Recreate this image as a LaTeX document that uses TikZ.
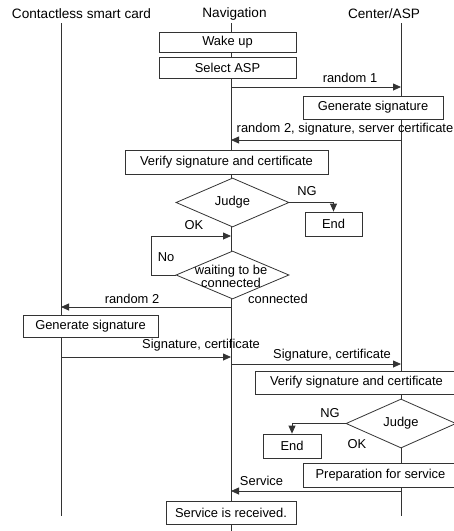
\documentclass[tikz,border=0pt]{standalone}
\usepackage{fontspec}
\setmainfont{Liberation Sans}
\usetikzlibrary{arrows.meta,shapes.geometric}
\begin{document}
\begin{tikzpicture}[x=1pt,y=-1pt,
  every node/.style={font=\fontsize{12.9}{13}\selectfont, inner sep=0pt},
  ln/.style={draw=black!80, line width=0.8pt},
  msg/.style={ln, -{Triangle[length=8pt,width=7pt]}},
  box/.style={ln, fill=white, rectangle},
  dia/.style={ln, fill=white, diamond, aspect=2.3},
  lbl/.style={anchor=center},
  ttl/.style={anchor=center, font=\fontsize{13.6}{14}\selectfont}]
\useasboundingbox (0,0) rectangle (454,531);
\clip (0,0) rectangle (454,531);
% titles
\node[ttl] (tcard) at (81.5,14) {Contactless smart card};
\node[ttl] (tnav) at (234.5,14) {Navigation};
\node[ttl] (tasp) at (384,14) {Center/ASP};
% lifelines
\coordinate (c0) at (61,23); \coordinate (c1) at (61,516);
\coordinate (n0) at (231,23); \coordinate (n1) at (231,531);
\coordinate (a0) at (401,23); \coordinate (a1) at (401,516);
\draw[ln] (c0) -- (c1);
\draw[ln] (n0) -- (n1);
\draw[ln] (a0) -- (a1);
% boxes
\node[box, minimum width=137pt, minimum height=20pt] (wake) at (227.5,42) {Wake up};
\node[box, minimum width=137pt, minimum height=21pt] (sel) at (227.5,67.5) {Select ASP};
% random 1
\coordinate (r1a) at (231,87); \coordinate (r1b) at (401,87);
\draw[msg] (r1a) -- (r1b);
\node[lbl] (lr1) at (350,78) {random 1};
\node[box, minimum width=140pt, minimum height=23pt] (gen1) at (373,107.5) {Generate signature};
% random 2 signature
\coordinate (r2a) at (401,140); \coordinate (r2b) at (231,140);
\draw[msg] (r2a) -- (r2b);
\node[lbl] (lr2) at (345,129.5) {random 2, signature, server certificate};
\node[box, minimum width=203pt, minimum height=24pt] (ver1) at (226.5,162) {Verify signature and certificate};
% judge 1
\node[dia, minimum width=113pt, minimum height=49pt] (j1) at (232.5,202.5) {};
\node[lbl] (j1t) at (j1) {Judge};
\node[box, minimum width=57pt, minimum height=24pt] (end1) at (333.5,224) {End};
\draw[msg] (j1.east) -| (end1.north);
\node[lbl] (ng1) at (307,191.5) {NG};
\node[lbl] (ok1) at (194,225.5) {OK};
% waiting
\node[dia, minimum width=113pt, minimum height=48pt] (w) at (232.5,275) {};
\node[lbl, align=center, font=\fontsize{12.9}{11}\selectfont] (wt) at (231,276.5) {waiting to be\\connected};
\coordinate (lp1) at (151,275); \coordinate (lp2) at (151,236); \coordinate (okin) at (231,236);
\draw[msg] (w.west) -- (lp1) -- (lp2) -- (okin);
\node[lbl] (no) at (166,257) {No};
\node[lbl] (conn) at (278,299) {connected};
% random 2 to card
\coordinate (r3a) at (231,307); \coordinate (r3b) at (61,307);
\draw[msg] (r3a) -- (r3b);
\node[lbl] (lr3) at (132,298.5) {random 2};
\node[box, minimum width=135pt, minimum height=22pt] (gen2) at (90.5,326) {Generate signature};
% signature certificate
\coordinate (s1a) at (61,357); \coordinate (s1b) at (231,357);
\draw[msg] (s1a) -- (s1b);
\node[lbl] (ls1) at (201,345) {Signature, certificate};
\coordinate (s2a) at (231,364); \coordinate (s2b) at (401,364);
\draw[msg] (s2a) -- (s2b);
\node[lbl] (ls2) at (332,355) {Signature, certificate};
\node[box, minimum width=203pt, minimum height=23pt] (ver2) at (356.5,382.5) {Verify signature and certificate};
% judge 2
\node[dia, minimum width=110pt, minimum height=49pt] (j2) at (401,423.5) {};
\node[lbl] (j2t) at (j2) {Judge};
\node[box, minimum width=58pt, minimum height=24pt] (end2) at (292,446) {End};
\draw[msg] (j2.west) -| (end2.north);
\node[lbl] (ng2) at (330,413) {NG};
\node[lbl] (ok2) at (357,444) {OK};
\node[box, minimum width=155pt, minimum height=24pt] (prep) at (380.5,475) {Preparation for service};
% service
\coordinate (sva) at (401,491); \coordinate (svb) at (231,491);
\draw[msg] (sva) -- (svb);
\node[lbl] (lsv) at (261.5,481) {Service};
\node[box, minimum width=130pt, minimum height=23pt] (rec) at (231,512.5) {Service is received.};
\end{tikzpicture}
\end{document}
